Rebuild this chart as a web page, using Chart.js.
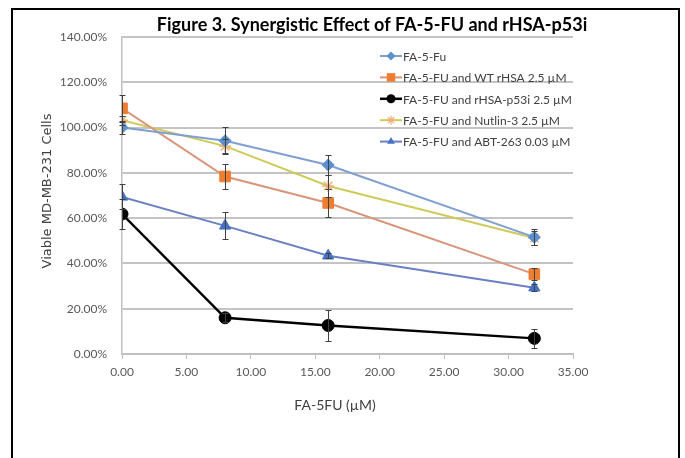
<!DOCTYPE html>
<html>
<head>
<meta charset="utf-8">
<script src="https://cdn.jsdelivr.net/npm/chart.js@4.4.1/dist/chart.umd.min.js"></script>
<style>
  body { margin: 0; background: #fff; }
  #wrap { position: relative; width: 685px; height: 458px; overflow: hidden; }
  #frame { position: absolute; left: 11px; top: 8px; width: 665px; height: 480px; border: 2px solid #000; }
  canvas { position: absolute; left: 0; top: 0; }
</style>
</head>
<body>
<div id="wrap">
  <div id="frame"></div>
  <canvas id="chart" width="685" height="458"></canvas>
</div>
<script>
// doses of FA-5-FU (uM)
var doses = [0, 8, 16, 32];

var seriesNames = [
  'FA-5-Fu',
  'FA-5-FU and WT rHSA 2.5 \u00b5M',
  'FA-5-FU and rHSA-p53i 2.5 \u00b5M',
  'FA-5-FU and Nutlin-3 2.5 \u00b5M',
  'FA-5-FU and ABT-263 0.03 \u00b5M'
];

// viable cells, percent
var faFu = [100, 94.2, 83.5, 51.6];
var wtRhsa = [108.5, 78.4, 66.7, 35.3];
var p53i = [61.8, 16.0, 12.6, 6.9];
var nutlin = [103.2, 91.8, 74.2, 51.2];
var abt = [69.4, 56.6, 43.4, 29.3];

// error bars (+/-)
var faFuErr = [3, 6, 4.5, 3.5];
var wtRhsaErr = [6, 5.6, 6, 2.5];
var p53iErr = [6.5, 2, 7, 4.3];
var nutlinErr = [2, 3, 5, 3];
var abtErr = [5.5, 6, 1, 1.5];

var chartTitle = 'Figure 3. Synergistic Effect of FA-5-FU and rHSA-p53i';
var xTitle = 'FA-5FU (\u00b5M)';
var yTitle = 'Viable MD-MB-231 Cells';

function points(vals) {
  return vals.map(function (v, i) { return { x: doses[i], y: v }; });
}

function makeSet(i, vals, errs, line, fill, style, radius, width) {
  return {
    label: seriesNames[i],
    data: points(vals),
    errors: errs,
    borderColor: line,
    borderWidth: width,
    backgroundColor: fill,
    pointBackgroundColor: fill,
    pointBorderColor: fill,
    pointBorderWidth: style === 'star' ? 1.5 : 1,
    pointStyle: style,
    pointRadius: radius,
    tension: 0
  };
}

var datasets = [
  makeSet(0, faFu, faFuErr, '#7f9fd3', '#5b8fd0', 'rectRot', 6, 2),
  makeSet(1, wtRhsa, wtRhsaErr, '#d9957a', '#ed7d31', 'rect', 7.5, 2),
  makeSet(2, p53i, p53iErr, '#000000', '#000000', 'circle', 6, 2.5),
  makeSet(3, nutlin, nutlinErr, '#cfcb5a', '#eeb07a', 'star', 6, 2),
  makeSet(4, abt, abtErr, '#6a80c2', '#4472c4', 'triangle', 6.5, 2)
];

function drawMarker(ctx, style, x, y, r, color) {
  ctx.save();
  ctx.fillStyle = color;
  ctx.strokeStyle = color;
  ctx.lineWidth = 1.2;
  ctx.beginPath();
  if (style === 'circle') {
    ctx.arc(x, y, r, 0, Math.PI * 2);
    ctx.fill();
  } else if (style === 'rect') {
    var s = r * Math.SQRT1_2;
    ctx.rect(x - s, y - s, 2 * s, 2 * s);
    ctx.fill();
  } else if (style === 'rectRot') {
    ctx.moveTo(x, y - r); ctx.lineTo(x + r, y); ctx.lineTo(x, y + r); ctx.lineTo(x - r, y);
    ctx.closePath(); ctx.fill();
  } else if (style === 'triangle') {
    ctx.moveTo(x, y - r);
    ctx.lineTo(x + r * 0.866, y + r * 0.5);
    ctx.lineTo(x - r * 0.866, y + r * 0.5);
    ctx.closePath(); ctx.fill();
  } else if (style === 'star') {
    ctx.moveTo(x - r, y); ctx.lineTo(x + r, y);
    ctx.moveTo(x, y - r); ctx.lineTo(x, y + r);
    var d = r * Math.SQRT1_2;
    ctx.moveTo(x - d, y - d); ctx.lineTo(x + d, y + d);
    ctx.moveTo(x - d, y + d); ctx.lineTo(x + d, y - d);
    ctx.stroke();
  }
  ctx.restore();
}

var extras = {
  id: 'extras',
  afterDatasetsDraw: function (chart) {
    var ctx = chart.ctx;
    var xs = chart.scales.x, ys = chart.scales.y;
    ctx.save();
    ctx.strokeStyle = '#404040';
    ctx.lineWidth = 1;
    chart.data.datasets.forEach(function (ds) {
      ds.errors.forEach(function (e, j) {
        var v = ds.data[j].y;
        var px = Math.round(xs.getPixelForValue(ds.data[j].x)) + 0.5;
        var top = Math.round(ys.getPixelForValue(v + e)) + 0.5;
        var bot = Math.round(ys.getPixelForValue(v - e)) + 0.5;
        ctx.beginPath();
        ctx.moveTo(px, top); ctx.lineTo(px, bot);
        ctx.moveTo(px - 3, top); ctx.lineTo(px + 3, top);
        ctx.moveTo(px - 3, bot); ctx.lineTo(px + 3, bot);
        ctx.stroke();
      });
    });
    ctx.restore();
  },
  afterDraw: function (chart) {
    var ctx = chart.ctx;
    ctx.save();
    // title
    ctx.fillStyle = '#000';
    ctx.font = 'bold 18px Lato';
    ctx.textAlign = 'center';
    ctx.textBaseline = 'middle';
    ctx.fillText(chartTitle, 372, 25);
    // axis titles
    ctx.fillStyle = '#404040';
    ctx.font = '14px Lato';
    ctx.fillText(xTitle, 335, 405);
    ctx.save();
    ctx.translate(48, 191);
    ctx.rotate(-Math.PI / 2);
    ctx.font = '13px "DejaVu Sans"';
    ctx.fillText(yTitle, 0, 0);
    ctx.restore();
    // legend
    ctx.font = '12px Lato';
    ctx.textAlign = 'left';
    chart.data.datasets.forEach(function (ds, i) {
      var ly = 56 + i * 21.4;
      ctx.strokeStyle = ds.borderColor;
      ctx.lineWidth = ds.borderWidth;
      ctx.beginPath();
      ctx.moveTo(380, ly); ctx.lineTo(402, ly);
      ctx.stroke();
      drawMarker(ctx, ds.pointStyle, 391, ly, ds.pointStyle === 'rect' ? 6 : 4.5, ds.pointBackgroundColor);
      ctx.fillStyle = '#404040';
      ctx.fillText(ds.label, 403, ly + 1);
    });
    ctx.restore();
  }
};

new Chart(document.getElementById('chart'), {
  type: 'line',
  data: { datasets: datasets },
  options: {
    responsive: false,
    animation: false,
    layout: { padding: { left: 0, top: 37, right: 112, bottom: 0 } },
    plugins: {
      legend: { display: false },
      title: { display: false },
      tooltip: { enabled: false }
    },
    scales: {
      x: {
        type: 'linear',
        min: 0,
        max: 35,
        afterFit: function (s) { s.height = 104; },
        border: { color: '#bfbfbf', width: 1.5 },
        grid: { drawOnChartArea: false, drawTicks: true, tickLength: 5, color: '#bfbfbf' },
        ticks: {
          stepSize: 5,
          padding: 6,
          color: '#595959',
          font: { family: 'Lato', size: 12 },
          callback: function (v) { return v.toFixed(2); }
        }
      },
      y: {
        min: 0,
        max: 140,
        afterFit: function (s) { s.width = 122; },
        border: { color: '#bfbfbf', width: 1.5 },
        grid: { color: '#c4c4c4', lineWidth: 2, drawTicks: false },
        ticks: {
          stepSize: 20,
          padding: 15,
          color: '#595959',
          font: { family: 'Lato', size: 12 },
          callback: function (v) { return v.toFixed(2) + '%'; }
        }
      }
    }
  },
  plugins: [extras]
});
</script>
</body>
</html>
